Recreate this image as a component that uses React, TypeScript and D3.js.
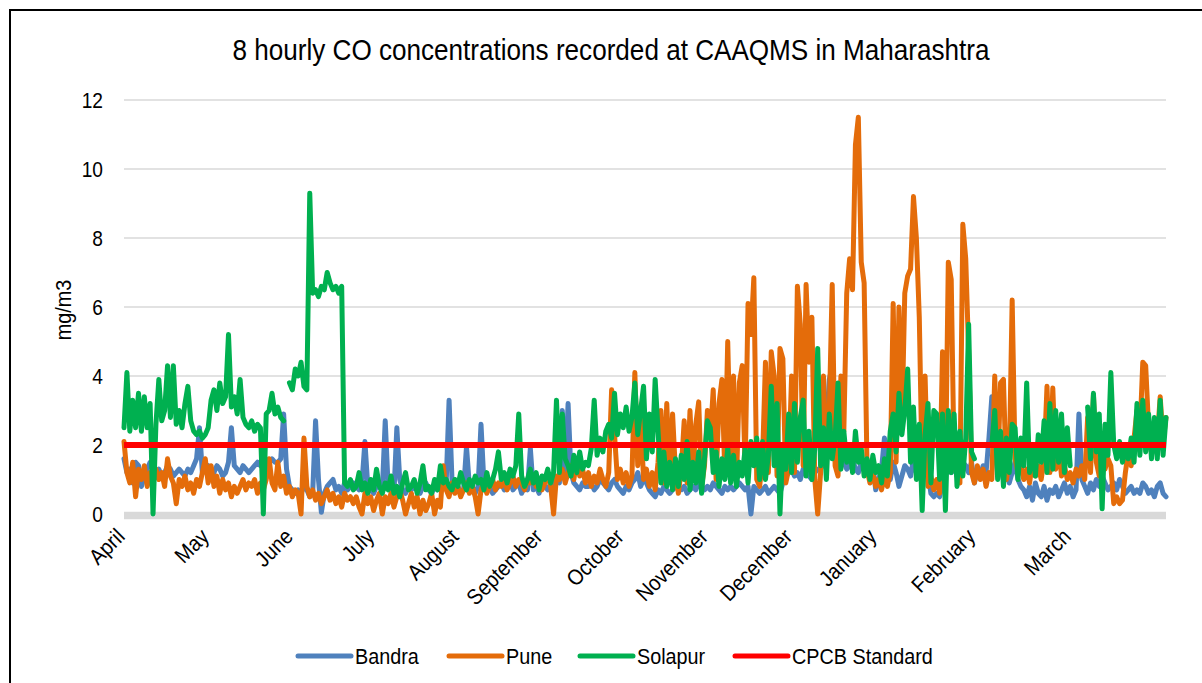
import React from "react";
import * as d3 from "d3";

const chartTitle = "8 hourly CO concentrations recorded at CAAQMS in Maharashtra";
const yAxisTitle = "mg/m3";
const monthLabels = ["April", "May", "June", "July", "August", "September", "October", "November", "December", "January", "February", "March"];
const monthTickIndex = [0, 29, 58, 86, 115, 144, 172, 201, 230, 259, 293, 326];
const yTicks = [0, 2, 4, 6, 8, 10, 12];
const seriesNames = ["Bandra", "Pune", "Solapur", "CPCB Standard"];
const seriesColors = ["#4F81BD", "#E46C0A", "#00B050", "#FF0000"];
const cpcbStandard = 2;

const bandra: (number | null)[] = [
  1.6,1.2,1.3,0.9,1.5,1.4,0.8,1.1,1.3,1.5,
  1.4,1.2,1.3,1.1,1.2,1.4,1.3,1.1,1.2,1.3,
  1.2,1.1,1.3,1.2,1.4,1.6,2.5,1.2,1.3,1.4,
  1.3,1.2,1.4,1.3,1.1,1.2,1.5,2.5,1.4,1.3,
  1.2,1.4,1.3,1.2,1.3,1.4,1.5,1.4,1.5,1.5,
  1.5,1.6,1.5,1.5,1.6,2.9,1.3,0.8,0.7,0.6,
  0.7,0.6,0.8,0.7,0.5,0.6,2.7,1.0,0.05,0.6,
  0.8,0.9,1.0,0.7,0.8,0.6,0.9,0.7,0.8,0.9,
  0.8,0.7,0.9,2.1,0.8,0.7,0.6,0.8,0.9,0.7,
  2.7,0.8,0.7,0.6,2.5,1.0,0.7,0.6,0.8,0.7,
  0.8,0.7,0.6,0.8,0.9,0.7,0.6,0.8,0.7,0.9,
  0.8,0.9,3.3,1.0,0.7,0.8,0.6,0.7,1.95,0.8,
  0.7,0.6,0.8,2.6,0.9,0.7,0.8,0.6,0.7,0.8,
  0.9,0.7,0.8,1.0,0.7,0.8,0.9,0.6,0.8,0.7,
  1.9,0.7,0.8,0.6,0.9,0.8,0.7,0.9,0.8,1.0,
  0.9,3.0,1.1,3.2,1.2,0.9,0.8,0.7,0.9,0.8,
  0.8,0.9,0.7,0.8,1.0,0.9,0.8,0.7,0.9,1.0,
  0.8,0.7,0.6,0.8,0.7,0.9,1.0,1.2,0.8,1.0,
  0.9,0.7,0.6,0.5,0.7,0.6,0.8,0.7,0.6,0.7,
  0.8,0.7,0.7,0.8,0.6,0.7,0.8,0.7,0.9,0.8,
  0.7,0.8,0.7,0.9,0.8,0.7,0.6,0.8,0.7,0.8,
  0.7,0.8,0.9,0.8,0.7,0.8,0.0,0.8,0.7,0.6,
  0.7,0.8,0.6,0.7,0.8,0.7,0.6,0.9,1.1,1.2,
  1.3,1.1,1.2,1.0,1.3,1.2,1.1,1.0,1.2,1.3,
  1.3,1.5,2.5,3.9,4.3,3.0,1.6,1.4,1.5,1.3,
  1.4,1.6,1.3,1.2,1.5,1.4,1.3,1.1,1.4,0.7,
  1.0,1.3,2.2,1.6,1.0,1.5,1.2,0.8,1.1,1.4,
  1.3,1.1,1.6,1.2,1.4,1.0,2.2,1.2,0.6,0.5,
  0.6,0.5,0.9,1.3,1.5,1.2,1.4,1.1,1.3,1.5,
  1.4,1.2,1.5,0.9,1.3,1.1,1.4,1.2,2.2,3.4,
  2.0,1.2,1.4,1.0,1.3,0.9,1.2,1.5,1.0,0.8,
  0.7,0.5,0.8,0.4,0.9,0.6,0.5,0.8,0.4,0.7,
  0.6,0.8,0.5,0.7,0.9,0.6,0.8,0.5,0.7,2.9,
  1.0,0.8,0.6,0.9,0.7,1.0,0.8,1.1,0.9,0.7,
  0.8,0.9,0.7,1.0,0.8,0.6,0.7,0.8,0.6,0.7,
  0.6,0.9,0.8,0.6,0.7,0.5,0.8,0.9,0.6,0.5,
];

const pune: (number | null)[] = [
  2.1,1.2,0.9,1.5,0.5,1.3,1.0,1.4,0.8,1.2,
  0.9,1.3,1.0,1.2,0.8,1.6,1.1,0.9,0.3,1.0,
  0.8,1.1,0.7,0.9,0.6,1.0,0.8,1.2,1.6,0.9,
  1.4,0.8,1.1,0.6,1.0,0.7,0.9,0.5,0.8,0.6,
  0.8,1.0,0.7,0.9,0.8,1.0,0.6,0.9,0.7,1.0,
  1.6,0.9,0.7,1.5,0.8,1.1,0.6,0.8,0.5,0.7,
  0.6,0.0,2.2,0.8,0.5,0.7,0.4,0.6,0.3,0.5,
  0.7,0.4,0.6,0.3,0.5,0.2,0.6,0.4,0.5,0.3,
  0.5,0.2,0.0,0.6,0.3,0.5,0.1,0.4,0.6,0.0,
  0.5,0.3,0.6,0.2,0.5,0.7,0.4,0.0,0.3,0.6,
  0.2,0.5,0.0,0.4,0.1,0.3,0.6,0.0,0.4,0.2,
  1.4,0.7,0.5,0.9,0.6,0.8,0.5,0.7,0.9,0.6,
  0.8,0.5,0.0,0.7,0.9,0.6,0.8,1.0,0.7,0.9,
  0.8,1.0,0.7,0.9,1.1,0.8,1.0,0.9,0.7,1.0,
  0.9,1.1,0.8,1.0,0.7,0.9,1.2,0.8,0.0,1.1,
  1.0,1.3,0.9,1.2,1.4,1.0,1.6,1.1,1.3,0.9,
  1.2,0.8,1.1,0.9,1.3,1.0,0.8,1.2,3.6,2.3,
  1.0,1.3,0.9,1.2,0.8,1.1,4.1,1.4,2.9,1.0,
  1.3,0.8,1.2,0.7,1.5,3.0,0.9,3.2,1.0,2.9,
  1.2,0.6,1.3,2.7,0.9,3.0,1.1,2.6,3.25,0.8,
  1.4,3.0,2.2,3.6,1.0,3.2,3.9,1.2,5.0,1.5,
  4.0,0.9,3.8,4.3,1.3,6.1,5.2,6.85,1.0,0.8,
  1.6,4.4,1.2,4.7,4.0,1.1,4.8,4.5,0.9,1.3,
  4.0,1.2,6.6,5.5,1.4,6.65,4.4,5.7,1.0,0.0,
  1.2,4.0,1.5,3.0,6.65,1.4,1.1,4.0,2.4,6.4,
  7.4,6.5,10.7,11.5,7.3,6.7,1.3,0.9,1.2,0.8,
  1.0,0.7,1.1,0.8,1.2,6.1,1.5,6.0,2.5,6.4,
  6.9,7.1,9.2,8.0,5.7,1.2,4.0,0.8,1.1,0.7,
  1.0,0.6,4.7,1.0,7.3,6.8,1.5,1.1,0.9,8.4,
  7.4,4.7,1.2,0.9,1.4,1.0,1.3,0.8,1.2,1.0,
  4.0,1.2,3.8,3.9,1.0,1.5,6.2,1.6,1.2,1.4,
  1.0,1.3,0.9,1.5,1.1,1.4,1.0,1.6,3.7,1.2,
  3.65,1.3,2.0,1.1,1.4,1.0,1.2,0.9,1.3,1.1,
  1.4,1.0,2.8,1.2,3.45,1.5,1.1,1.8,1.3,1.6,
  1.4,0.3,0.5,0.3,0.4,1.2,1.8,1.4,2.2,3.0,
  2.3,4.4,4.3,2.5,1.8,2.6,2.2,3.4,2.1,2.8,
];

const solapur: (number | null)[] = [
  2.5,4.1,2.4,3.3,2.5,3.5,2.4,3.4,2.5,3.2,
  0.0,2.6,3.9,2.7,3.0,4.3,2.8,4.3,2.6,3.0,
  2.5,3.2,3.7,2.7,2.4,2.3,2.4,2.2,2.3,2.5,
  3.3,3.6,3.0,3.8,3.2,3.4,5.2,3.1,3.4,2.9,
  3.9,2.8,2.6,2.5,2.7,2.4,2.6,2.5,0.0,2.9,
  3.0,3.5,2.9,3.1,2.8,2.7,null,3.8,3.6,4.2,
  4.0,4.4,3.7,3.6,9.3,6.4,6.5,6.3,6.6,6.5,
  7.0,6.7,6.5,6.6,6.4,6.6,0.9,0.8,1.0,0.7,
  0.8,1.2,0.7,0.9,0.6,1.0,0.7,1.3,0.8,0.6,
  0.9,0.7,1.1,0.6,0.8,0.5,0.9,1.2,0.7,0.8,
  1.0,0.6,0.9,1.4,0.7,0.8,0.6,1.0,0.7,1.4,
  0.9,1.0,0.8,0.7,1.0,0.8,1.2,0.9,0.7,1.0,
  0.8,1.1,0.9,1.0,0.7,1.2,0.8,1.0,1.3,1.8,
  1.0,1.2,0.9,1.3,1.1,1.4,2.9,1.1,0.8,1.0,
  1.3,0.9,1.2,0.7,1.1,1.0,1.3,0.9,1.2,3.3,
  1.2,2.9,1.6,1.4,1.1,1.7,1.2,1.8,1.3,1.5,
  1.4,1.9,3.3,1.7,2.2,1.8,2.4,2.6,2.2,3.5,
  2.3,2.9,2.5,3.1,2.4,2.8,3.8,2.3,3.0,3.7,
  1.6,2.9,1.8,3.9,2.4,0.9,1.8,0.8,1.5,0.7,
  1.6,0.8,1.7,1.0,2.1,0.7,1.5,0.9,1.8,0.6,
  1.6,2.7,2.5,1.2,1.8,0.8,1.6,1.0,1.9,0.9,
  1.7,0.8,1.5,1.1,1.9,0.9,2.1,1.4,2.2,1.0,
  2.1,1.0,1.7,3.7,1.4,3.2,0.0,2.0,1.3,2.9,
  1.2,3.2,1.5,2.8,3.3,1.1,2.4,1.0,1.9,4.8,
  1.4,2.5,1.0,2.9,1.6,2.2,3.8,1.3,2.4,1.5,
  2.0,1.2,2.4,1.5,1.9,1.1,1.6,1.0,1.7,1.2,
  1.4,0.9,1.6,1.1,2.4,2.9,1.8,3.5,2.3,3.0,
  4.2,1.5,3.1,1.0,2.6,0.1,2.3,3.2,0.9,3.0,
  2.9,1.0,2.9,0.1,3.0,1.2,2.9,0.8,2.4,1.1,
  2.2,5.5,1.8,1.6,null,null,null,null,null,2.0,
  3.0,1.0,2.4,0.8,2.2,1.2,2.6,2.5,1.0,2.2,
  1.4,3.8,1.2,2.0,1.1,2.3,1.5,2.7,1.2,3.2,
  1.3,3.0,1.5,2.9,1.2,2.5,1.4,null,null,null,
  null,null,3.1,1.6,3.5,1.8,2.9,0.15,2.6,1.7,
  4.1,2.0,1.6,2.1,1.5,1.9,1.6,2.2,1.5,3.2,
  1.7,3.3,1.8,2.9,1.6,2.8,1.6,3.3,1.7,2.8,
];

const FONT = "'Liberation Sans', Arial, Helvetica, sans-serif";

export default function App() {
  const W = 1202;
  const H = 683;
  const n = bandra.length;
  const x = d3.scaleLinear().domain([0, n - 1]).range([124, 1166]);
  const y = d3.scaleLinear().domain([0, 12]).range([514, 100]);
  const line = d3
    .line<number | null>()
    .defined((d) => d !== null)
    .x((_, i) => x(i))
    .y((d) => y(d as number));
  const seriesData = [bandra, pune, solapur];
  const stdLine = d3.line<number>().x((d) => x(d)).y(() => y(cpcbStandard));

  const legendX = [298, 449, 580, 735];
  const legendY = 656;

  return (
    <svg width={W} height={H} style={{ position: "absolute", left: 0, top: 0, background: "#fff" }} fontFamily={FONT}>
      <rect x={0} y={0} width={W} height={H} fill="#fff" />
      <rect x={10} y={10} width={1220} height={700} fill="none" stroke="#000" strokeWidth={2} />
      <text transform="translate(611,60) scale(0.87,1)" textAnchor="middle" fontSize={30} fill="#000">{chartTitle}</text>

      {yTicks.filter((t) => t > 0).map((t) => (
        <line key={"g" + t} x1={x(0)} x2={x(n - 1)} y1={y(t)} y2={y(t)} stroke="#d9d9d9" strokeWidth={1.4} />
      ))}
      <line x1={x(0)} x2={x(n - 1)} y1={y(0) + 1.5} y2={y(0) + 1.5} stroke="#d9d9d9" strokeWidth={7.5} />

      {yTicks.map((t) => (
        <text key={"t" + t} transform={`translate(103,${y(t)}) scale(0.87,1)`} dy="0.36em" textAnchor="end" fontSize={22} fill="#000">{t}</text>
      ))}
      <text transform={`translate(63,310) rotate(-90) scale(0.9,1)`} textAnchor="middle" dy="0.35em" fontSize={22} fill="#000">{yAxisTitle}</text>

      {monthLabels.map((m, i) => (
        <text key={m} transform={`translate(${x(monthTickIndex[i]) + 2},538) rotate(-45) scale(0.9,1)`} textAnchor="end" fontSize={22} fill="#000">{m}</text>
      ))}

      {seriesData.map((s, k) => (
        <path key={seriesNames[k]} d={line(s) || ""} fill="none" stroke={seriesColors[k]} strokeWidth={5} strokeLinejoin="round" strokeLinecap="round" />
      ))}
      <path d={stdLine([0, n - 1]) || ""} fill="none" stroke={seriesColors[3]} strokeWidth={6} />

      {seriesNames.map((name, k) => (
        <g key={"l" + name}>
          <line x1={legendX[k]} x2={legendX[k] + 53} y1={legendY} y2={legendY} stroke={seriesColors[k]} strokeWidth={5} strokeLinecap="round" />
          <text transform={`translate(${legendX[k] + 57},${legendY}) scale(0.9,1)`} dy="0.35em" fontSize={22} fill="#000">{name}</text>
        </g>
      ))}
    </svg>
  );
}
